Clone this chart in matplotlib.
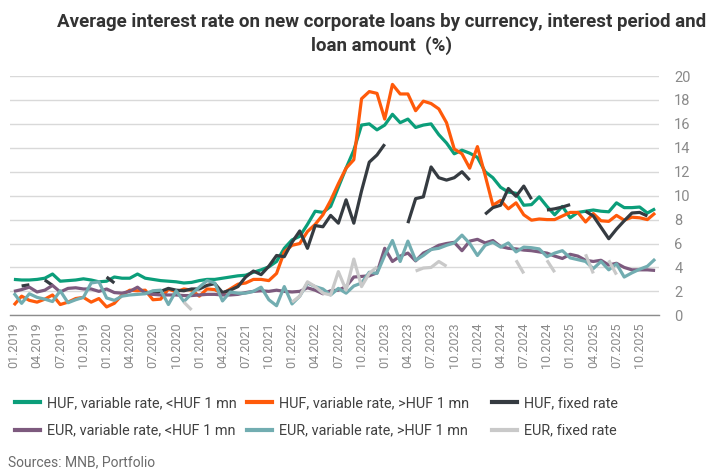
import numpy as np
import matplotlib
matplotlib.use("Agg")
import matplotlib.pyplot as plt
from matplotlib.lines import Line2D

plt.rcParams["font.family"] = ["Roboto", "DejaVu Sans"]

nan = np.nan

# monthly observations, 01.2019 - 12.2025
years = list(range(2019, 2026))
months = [f"{m:02d}.{y}" for y in years for m in range(1, 13)]

huf_var_small = [
    3.0, 2.95, 2.95, 3.0, 3.1, 3.45, 2.85, 2.9, 2.95, 3.05, 2.95, 2.8,
    2.85, 3.2, 3.1, 3.1, 3.45, 3.1, 3.0, 2.9, 2.85, 2.8, 2.7, 2.75,
    2.9, 3.0, 3.0, 3.1, 3.2, 3.3, 3.35, 3.6, 3.8, 4.05, 4.5, 5.6,
    6.3, 6.6, 7.6, 8.7, 8.6, 9.1, 10.7, 12.3, 13.8, 15.9, 16.0, 15.5,
    15.9, 16.8, 16.1, 16.4, 15.7, 15.9, 16.0, 15.1, 14.4, 13.5, 13.8, 13.55,
    13.2, 12.0, 11.5, 10.7, 10.3, 10.2, 9.2, 9.25, 9.9, 9.1, 8.4, 9.1,
    8.15, 8.6, 8.7, 8.8, 8.7, 8.65, 9.4, 9.0, 9.0, 9.05, 8.55, 8.9,
]
huf_var_large = [
    0.85, 1.6, 1.25, 1.1, 1.35, 1.7, 0.9, 1.1, 1.4, 1.5, 1.1, 1.4,
    0.7, 1.0, 1.7, 2.1, 2.05, 2.1, 1.3, 1.35, 2.2, 1.95, 2.2, 2.1,
    1.6, 2.2, 2.15, 1.8, 2.2, 2.6, 2.7, 3.0, 3.0, 2.9, 3.5, 5.3,
    5.85, 6.0, 7.0, 7.6, 8.4, 9.6, 11.0, 12.3, 13.0, 18.1, 18.7, 18.55,
    16.4, 19.3, 18.5, 18.5, 17.1, 17.9, 17.7, 17.25, 16.1, 13.9, 13.5, 12.3,
    14.1, 11.7, 9.2, 9.6, 8.9, 9.4, 8.4, 7.95, 8.05, 8.0, 8.0, 8.3,
    8.6, 8.6, 7.8, 8.5, 7.9, 7.85, 8.35, 7.95, 8.2, 8.15, 8.0, 8.55,
]
huf_fixed = [
    nan, 2.45, 2.55, nan, 2.95, 2.5, nan, nan, nan, nan, nan, nan,
    3.2, 2.7, nan, nan, nan, 1.9, 1.8, 2.0, 2.25, 2.1, 2.05, 2.2,
    2.2, 2.5, 2.65, 1.9, 2.1, 2.4, 3.2, 3.7, 3.4, 4.1, 5.0, 4.9,
    6.1, 7.05, 5.6, 7.5, 7.4, 8.35, 7.7, 9.65, 7.7, 10.4, 12.8, 13.4,
    14.3, nan, nan, 7.7, 9.75, 9.9, 12.4, 11.5, 11.3, 11.5, 12.0, 11.3,
    nan, 8.45, 9.0, 9.2, 10.6, 9.95, 10.8, 9.7, nan, 8.8, 8.9, 9.05,
    9.25, nan, 8.7, 8.3, 7.35, 6.4, 7.2, 7.9, 8.55, 8.6, 8.3, nan,
]
eur_var_small = [
    2.0, 2.15, 2.35, 1.95, 2.1, 2.5, 1.95, 2.25, 2.3, 2.2, 2.2, 2.0,
    2.2, 1.9, 1.85, 2.0, 2.35, 1.85, 1.75, 1.7, 1.7, 1.7, 1.65, 1.65,
    1.7, 1.75, 1.75, 1.7, 1.7, 1.75, 1.9, 2.0, 2.05, 2.0, 2.1, 2.0,
    1.95, 2.0, 2.3, 2.1, 1.8, 2.05, 2.1, 2.4, 3.2, 3.25, 3.3, 3.55,
    5.6, 4.5, 4.95, 5.2, 4.55, 5.2, 5.5, 5.85, 6.0, 6.1, 5.4, 6.2,
    6.35, 6.05, 6.25, 5.75, 5.6, 5.55, 5.45, 5.4, 5.3, 5.2, 4.95, 4.75,
    5.1, 4.95, 4.6, 4.5, 4.6, 4.2, 4.35, 4.0, 3.8, 3.8, 3.8, 3.75,
]
eur_var_large = [
    1.85, 1.0, 1.8, 1.5, 1.35, 1.15, 2.05, 1.05, 1.3, 1.5, 2.7, 2.8,
    1.45, 1.25, 1.6, 1.7, 1.75, 1.8, 2.05, 2.1, 0.9, 2.05, 1.15, 1.8,
    2.35, 2.9, 2.7, 1.2, 1.95, 1.85, 1.85, 2.0, 2.35, 1.3, 0.8, 2.4,
    0.95, 1.6, 2.7, 2.4, 2.2, 1.7, 2.25, 1.85, 2.45, 2.7, 3.6, 3.5,
    5.0, 6.25, 4.5, 6.2, 4.6, 5.0, 5.5, 5.6, 5.85, 6.05, 6.7, 6.0,
    5.0, 5.85, 6.1, 5.7, 6.05, 5.3, 5.7, 5.65, 5.55, 4.9, 5.2, 5.4,
    4.8, 4.65, 4.5, 3.9, 4.5, 3.8, 4.3, 3.2, 3.55, 3.85, 4.1, 4.7,
]
eur_fixed = [
    nan, nan, nan, nan, nan, nan, nan, nan, nan, nan, nan, nan,
    nan, nan, nan, nan, nan, nan, nan, nan, nan, nan, 1.1, 0.45,
    nan, nan, nan, nan, nan, nan, nan, nan, nan, nan, nan, nan,
    1.1, 1.6, 2.8, 2.4, 1.85, 1.7, 3.65, 2.1, 4.7, 2.4, 3.5, 4.05,
    nan, nan, nan, nan, 3.7, 3.95, 4.0, 4.5, 4.1, nan, nan, nan,
    nan, nan, nan, nan, nan, 4.6, 3.5, nan, nan, 4.6, 3.6, nan,
    nan, nan, 5.1, 3.5, nan, 4.6, 3.4, nan, nan, nan, nan, nan,
]

labels = [
    "HUF, variable rate, <HUF 1 mn",
    "HUF, variable rate, >HUF 1 mn",
    "HUF, fixed rate",
    "EUR, variable rate, <HUF 1 mn",
    "EUR, variable rate, >HUF 1 mn",
    "EUR, fixed rate",
]
series = [huf_var_small, huf_var_large, huf_fixed, eur_var_small, eur_var_large, eur_fixed]
colors = ["#0B9E7A", "#FF5A0A", "#353B41", "#7D5A7E", "#72ADB1", "#C9C9C9"]

fig = plt.figure(figsize=(7.22, 4.76), dpi=100)
ax = fig.add_axes([0.0139, 0.3376, 0.8988, 0.5027])

x = np.arange(len(months))
for vals, lab, col in zip(series, labels, colors):
    ax.plot(x, vals, color=col, linewidth=2.3, label=lab, solid_capstyle="butt")

ax.set_xlim(-0.5, len(months) - 0.5)
ax.set_ylim(0, 20)
ax.yaxis.tick_right()
ax.set_yticks(range(0, 21, 2))
ax.set_xticks(x[::3])
ax.set_xticklabels(months[::3], rotation=90, fontsize=9, color="#8a8a8a")
ax.tick_params(axis="y", length=0, pad=11, labelsize=10.5, labelcolor="#8a8a8a")
ax.tick_params(axis="x", length=0, pad=5)
ax.grid(axis="y", color="#d9d9d9", linewidth=1)
ax.set_axisbelow(True)
for s in ["top", "right", "left"]:
    ax.spines[s].set_visible(False)
ax.spines["bottom"].set_color("#8c8c8c")
ax.spines["bottom"].set_linewidth(1)

fig.text(0.528, 1 - 34 / 476,
         "Average interest rate on new corporate loans by currency, interest period and\nloan amount  (%)",
         ha="center", va="center", fontsize=13.5, fontweight="bold", color="#333333", linespacing=1.3)

# legend: three columns placed by hand
col_x = [15 / 722, 247 / 722, 492 / 722]
for c in range(3):
    hs = [Line2D([], [], color=colors[c], linewidth=3),
          Line2D([], [], color=colors[c + 3], linewidth=3)]
    fig.legend(hs, [labels[c], labels[c + 3]], loc="upper left",
               bbox_to_anchor=(col_x[c], 1 - 396 / 476), bbox_transform=fig.transFigure,
               frameon=False, fontsize=10.4, handlelength=1.75, handletextpad=0.45,
               labelspacing=0.95, labelcolor="#404040", borderaxespad=0, borderpad=0)

fig.text(0.011, 1 - 462 / 476, "Sources: MNB, Portfolio", ha="left", va="center",
         fontsize=10, color="#6b6b6b")

fig.savefig("out.png", dpi=100)
